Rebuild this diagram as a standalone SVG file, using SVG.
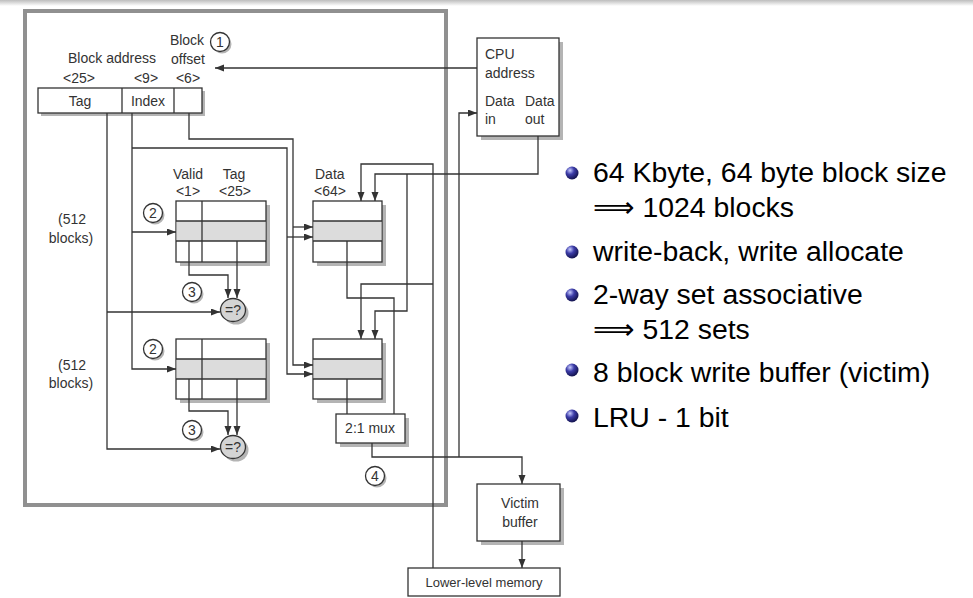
<svg xmlns="http://www.w3.org/2000/svg" width="973" height="598" viewBox="0 0 973 598">
<style>
.t{font-family:"Liberation Sans",Arial,sans-serif;font-size:14px;fill:#333}
.m{text-anchor:middle}
.box{fill:#fff;stroke:#333;stroke-width:1.3}
.sh{fill:#b4b4b4}
.band{fill:#dcdcdc}
.ln{fill:none;stroke:#333;stroke-width:1.3}
.cn{fill:none;stroke:#333;stroke-width:1.3;marker-end:url(#ah)}
.num{fill:#fff;stroke:#333;stroke-width:1.3}
.b{font-family:"Liberation Sans",Arial,sans-serif;font-size:28.4px;fill:#000}
.arr{font-family:"DejaVu Sans",sans-serif;font-size:29px}
</style>
<defs>
<marker id="ah" markerUnits="userSpaceOnUse" markerWidth="10" markerHeight="8" refX="9" refY="3.5" orient="auto">
<path d="M0,0 L9,3.5 L0,7 z" fill="#333"/>
</marker>
<linearGradient id="top" x1="0" y1="0" x2="0" y2="1">
<stop offset="0" stop-color="#bdbdbd"/>
<stop offset="1" stop-color="#ffffff"/>
</linearGradient>
<radialGradient id="ball" cx="0.35" cy="0.3" r="0.7">
<stop offset="0" stop-color="#c8ccff"/>
<stop offset="0.45" stop-color="#3c3ca8"/>
<stop offset="1" stop-color="#141450"/>
</radialGradient>
</defs>

<rect x="0" y="0" width="973" height="6" fill="url(#top)"/>

<g id="frame">
<rect x="25" y="11" width="421" height="494" fill="none" stroke="#909090" stroke-width="4"/>
</g>

<g id="address">
<rect class="sh" x="41" y="91" width="164" height="25"/>
<rect class="box" x="38" y="88" width="164" height="25"/>
<line class="ln" x1="122" y1="88" x2="122" y2="113"/>
<line class="ln" x1="174" y1="88" x2="174" y2="113"/>
<text class="t m" x="80" y="106">Tag</text>
<text class="t m" x="148" y="106">Index</text>
<text class="t m" x="112" y="63">Block address</text>
<text class="t m" x="187" y="45">Block</text>
<text class="t m" x="188" y="64">offset</text>
<text class="t m" x="79" y="83">&lt;25&gt;</text>
<text class="t m" x="146" y="83">&lt;9&gt;</text>
<text class="t m" x="188" y="83">&lt;6&gt;</text>
</g>

<g id="num1"><circle class="sh" cx="222" cy="44" r="9.5"/><circle class="num" cx="220" cy="42" r="9.5"/><text class="t m" x="220" y="47">1</text></g>

<g id="labels512">
<text class="t m" x="72" y="224">(512</text>
<text class="t m" x="71" y="243">blocks)</text>
<text class="t m" x="72" y="370">(512</text>
<text class="t m" x="71" y="388">blocks)</text>
</g>

<g id="tagarray1">
<text class="t m" x="188" y="179">Valid</text>
<text class="t m" x="188" y="196">&lt;1&gt;</text>
<text class="t m" x="234" y="179">Tag</text>
<text class="t m" x="235" y="196">&lt;25&gt;</text>
<rect class="sh" x="180" y="205" width="90" height="61"/>
<rect class="box" x="176" y="201" width="90" height="61"/>
<rect class="band" x="176.6" y="221" width="88.8" height="20"/>
<line class="ln" x1="176" y1="221" x2="266" y2="221"/>
<line class="ln" x1="176" y1="241" x2="266" y2="241"/>
<line class="ln" x1="202" y1="201" x2="202" y2="262"/>
</g>
<g id="num2a"><circle class="sh" cx="155" cy="215" r="9.5"/><circle class="num" cx="153" cy="213" r="9.5"/><text class="t m" x="153" y="218">2</text></g>

<g id="tagarray2">
<rect class="sh" x="180" y="343" width="90" height="60"/>
<rect class="box" x="176" y="339" width="90" height="60"/>
<rect class="band" x="176.6" y="359" width="88.8" height="20"/>
<line class="ln" x1="176" y1="359" x2="266" y2="359"/>
<line class="ln" x1="176" y1="379" x2="266" y2="379"/>
<line class="ln" x1="202" y1="339" x2="202" y2="399"/>
</g>
<g id="num2b"><circle class="sh" cx="155" cy="351" r="9.5"/><circle class="num" cx="153" cy="349" r="9.5"/><text class="t m" x="153" y="354">2</text></g>

<g id="cmp1">
<ellipse class="sh" cx="236" cy="313" rx="12.5" ry="11.5"/>
<ellipse cx="233" cy="310" rx="12.5" ry="11.5" fill="#d4d4d4" stroke="#333" stroke-width="1.3"/>
<text class="t m" x="233" y="315">=?</text>
</g>
<g id="num3a"><circle class="sh" cx="194" cy="294" r="9.5"/><circle class="num" cx="192" cy="292" r="9.5"/><text class="t m" x="192" y="297">3</text></g>

<g id="cmp2">
<ellipse class="sh" cx="236" cy="450" rx="12.5" ry="11.5"/>
<ellipse cx="233" cy="447" rx="12.5" ry="11.5" fill="#d4d4d4" stroke="#333" stroke-width="1.3"/>
<text class="t m" x="233" y="452">=?</text>
</g>
<g id="num3b"><circle class="sh" cx="194" cy="432" r="9.5"/><circle class="num" cx="192" cy="430" r="9.5"/><text class="t m" x="192" y="435">3</text></g>

<g id="dataarray1">
<text class="t" x="315" y="179">Data</text>
<text class="t" x="314" y="196">&lt;64&gt;</text>
<rect class="sh" x="317" y="205" width="69" height="61"/>
<rect class="box" x="313" y="201" width="69" height="61"/>
<rect class="band" x="313.6" y="221" width="67.8" height="20"/>
<line class="ln" x1="313" y1="221" x2="382" y2="221"/>
<line class="ln" x1="313" y1="241" x2="382" y2="241"/>
</g>

<g id="dataarray2">
<rect class="sh" x="317" y="343" width="69" height="60"/>
<rect class="box" x="313" y="339" width="69" height="60"/>
<rect class="band" x="313.6" y="359" width="67.8" height="20"/>
<line class="ln" x1="313" y1="359" x2="382" y2="359"/>
<line class="ln" x1="313" y1="379" x2="382" y2="379"/>
</g>

<g id="mux">
<rect class="sh" x="340" y="418" width="69" height="29"/>
<rect class="box" x="336" y="414" width="69" height="29"/>
<text class="t m" x="370" y="433">2:1 mux</text>
</g>
<g id="num4"><circle class="sh" cx="377" cy="478" r="9.5"/><circle class="num" cx="375" cy="476" r="9.5"/><text class="t m" x="375" y="481">4</text></g>

<g id="cpu">
<rect class="sh" x="481" y="42" width="82" height="98"/>
<rect class="box" x="477" y="38" width="82" height="98"/>
<text class="t" x="485" y="59">CPU</text>
<text class="t" x="485" y="78">address</text>
<text class="t" x="485" y="106">Data</text>
<text class="t" x="485" y="124">in</text>
<text class="t" x="525" y="106">Data</text>
<text class="t" x="525" y="124">out</text>
</g>

<g id="victim">
<rect class="sh" x="481" y="488" width="83" height="57"/>
<rect class="box" x="477" y="484" width="83" height="57"/>
<text class="t m" x="520" y="508">Victim</text>
<text class="t m" x="520" y="527">buffer</text>
</g>

<g id="memory">
<rect class="box" x="408" y="568" width="152" height="28"/>
<text class="t m" x="484" y="587" style="font-size:13px">Lower-level memory</text>
</g>

<g id="connectors">
<path class="cn" d="M477,68 H215"/>
<path class="cn" d="M107,113 V449 H220"/>
<path class="cn" d="M107,312 H220"/>
<path class="cn" d="M132,113 V369 H176"/>
<path class="cn" d="M132,232 H176"/>
<path class="cn" d="M132,148 H287 V374 H313"/>
<path class="cn" d="M287,237 H313"/>
<path class="cn" d="M189,113 V139 H293 V365 H313"/>
<path class="cn" d="M293,227 H313"/>
<path class="cn" d="M189,241 V275 H228 V298"/>
<path class="cn" d="M237,241 V298"/>
<path class="cn" d="M189,379 V411 H228 V435"/>
<path class="cn" d="M237,379 V435"/>
<path class="ln" d="M347,241 V298 H394 V414"/>
<path class="ln" d="M347,379 V414"/>
<path class="cn" d="M372,443 V457 H522 V484"/>
<path class="cn" d="M459,457 V113 H477"/>
<path class="cn" d="M522,541 V568"/>
<path class="cn" d="M433,568 V164 H361 V201"/>
<path class="cn" d="M433,284 H361 V339"/>
<path class="cn" d="M538,136 V174 H375 V201"/>
<path class="cn" d="M407,174 V311 H375 V339"/>
</g>

<g id="bullets">
<circle cx="572" cy="173" r="6.5" fill="url(#ball)"/>
<text class="b" x="593" y="182">64 Kbyte, 64 byte block size</text>
<text class="b" x="593" y="217"><tspan class="arr">⟹</tspan> 1024 blocks</text>
<circle cx="572" cy="252" r="6.5" fill="url(#ball)"/>
<text class="b" x="593" y="261">write-back, write allocate</text>
<circle cx="572" cy="295" r="6.5" fill="url(#ball)"/>
<text class="b" x="593" y="304">2-way set associative</text>
<text class="b" x="593" y="339"><tspan class="arr">⟹</tspan> 512 sets</text>
<circle cx="572" cy="370" r="6.5" fill="url(#ball)"/>
<text class="b" x="593" y="382">8 block write buffer (victim)</text>
<circle cx="572" cy="416" r="6.5" fill="url(#ball)"/>
<text class="b" x="593" y="427">LRU - 1 bit</text>
</g>
</svg>
